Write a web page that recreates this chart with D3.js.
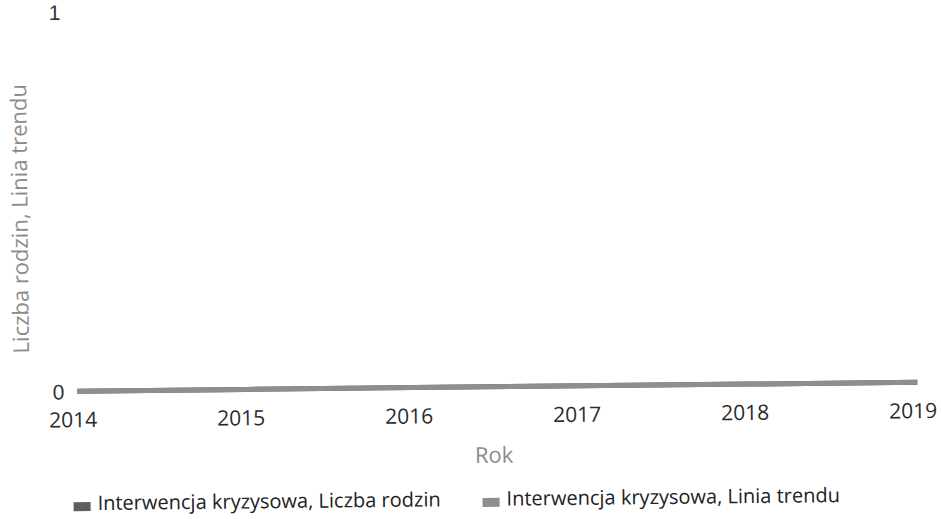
<!DOCTYPE html>
<html>
<head>
<meta charset="utf-8">
<script src="https://cdn.jsdelivr.net/npm/d3@7"></script>
<style>
    body { margin: 0; background: #fff; }
    svg { display: block; }
</style>
</head>
<body>
<div id="chart"></div>
<script>
var SVGWidth = 941;
var SVGHeight = 519;

// values
var years = [2014, 2015, 2016, 2017, 2018, 2019];
var familyCounts = [0, 0, 0, 0, 0, 0];
var trendValues = [0, 0, 0, 0, 0, 0];
var yTicks = [0, 1];
var seriesNames = ["Interwencja kryzysowa, Liczba rodzin", "Interwencja kryzysowa, Linia trendu"];
var seriesColors = ["#5f5f5f", "#8e8e8e"];

var svg = d3.select("#chart")
    .append("svg")
        .attr("width", SVGWidth)
        .attr("height", SVGHeight);

// the scan is tilted a little, so the whole thing is turned to match
var g = svg.append("g")
    .attr("transform", "rotate(-0.61, 470, 260)");

var x = d3.scaleLinear()
    .domain([2014, 2019])
    .range([76, 916]);

var y = d3.scaleLinear()
    .domain([0, 1])
    .range([387, 7.5]);

// Left axis
var yAxis = g.append("g")
    .attr("transform", "translate(" + x.range()[0] + ",0)")
    .call(d3.axisLeft(y).tickValues(yTicks).tickFormat(d3.format("d")).tickSize(0).tickPadding(13));
yAxis.select(".domain").remove();
yAxis.selectAll("text")
    .attr("dy", "0.36em")
    .style("font-family", "'Liberation Sans', Arial, sans-serif")
    .style("font-size", "21px")
    .style("fill", "#333");

// Bottom axis
var xAxis = g.append("g")
    .attr("transform", "translate(0," + y(0) + ")")
    .call(d3.axisBottom(x).tickValues(years).tickFormat(d3.format("d")).tickSize(0).tickPadding(21));
xAxis.select(".domain").remove();
xAxis.selectAll("text")
    .attr("dx", "-5")
    .style("font-family", "'Open Sans', sans-serif")
    .style("font-size", "21px")
    .style("fill", "#2a2a2a");

// lines
function drawLine(values, color) {
    g.append("path")
        .datum(values)
        .attr("fill", "none")
        .attr("stroke", color)
        .attr("stroke-width", 5)
        .attr("d", d3.line()
            .x(function(d, i) { return x(years[i]); })
            .y(function(d) { return y(d); })
        );
}
drawLine(familyCounts, seriesColors[0]);
drawLine(trendValues, seriesColors[1]);

// axis titles
g.append("text")
    .attr("transform", "translate(28,214) rotate(-90)")
    .attr("text-anchor", "middle")
    .style("font-family", "'Open Sans', sans-serif")
    .style("font-size", "22px")
    .style("fill", "#8c8c8c")
    .text("Liczba rodzin, Linia trendu");

g.append("text")
    .attr("x", 492)
    .attr("y", 463)
    .attr("text-anchor", "middle")
    .style("font-family", "'Open Sans', sans-serif")
    .style("font-size", "22px")
    .style("fill", "#8c8c8c")
    .text("Rok");

// legend
var legendX = [71, 480];
var legend = g.selectAll(".legend")
    .data(seriesNames)
    .enter()
    .append("g")
    .attr("class", "legend")
    .attr("transform", function(d, i) { return "translate(" + legendX[i] + ",0)"; });

legend.append("rect")
    .attr("x", 0)
    .attr("y", 498)
    .attr("width", 17)
    .attr("height", 9)
    .attr("fill", function(d, i) { return seriesColors[i]; });

legend.append("text")
    .attr("x", 24)
    .attr("y", 506)
    .style("font-family", "'Open Sans', sans-serif")
    .style("font-size", "20px")
    .style("fill", "#222")
    .text(function(d) { return d; });
</script>
</body>
</html>
